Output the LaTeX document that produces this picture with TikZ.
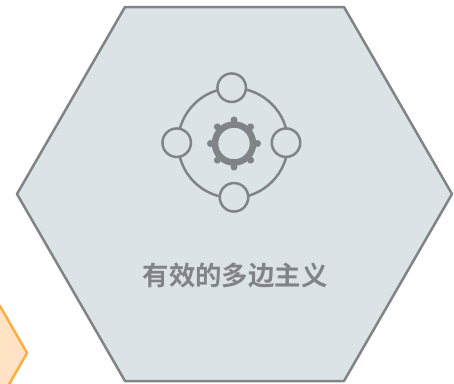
\documentclass[tikz,border=0pt]{standalone}
\usepackage{fontspec}
\newfontfamily\cjk{Noto Sans CJK SC}[BoldFont={Noto Sans CJK SC Bold}]
\definecolor{hexfill}{RGB}{220,227,231}
\definecolor{hexline}{RGB}{128,132,135}
\definecolor{orfill}{RGB}{255,227,196}
\definecolor{orline}{RGB}{255,173,66}
\tikzset{
  hexshape/.style={draw=hexline,fill=hexfill,line width=2.5pt,line join=round},
  orshape/.style={draw=orline,fill=orfill,line width=2.5pt,line join=round},
  satellite/.style={circle,draw=hexline,fill=hexfill,line width=2.5pt,minimum size=28.5pt,inner sep=0pt},
  orbit/.style={draw=hexline,line width=2.5pt},
  gearring/.style={draw=hexline,line width=6.5pt},
  geartooth/.style={fill=hexline},
  caption/.style={text=hexline,font=\cjk\bfseries\fontsize{26.4}{30}\selectfont,inner sep=0pt}
}
\begin{document}
\begin{tikzpicture}[x=1pt,y=-1pt]
\useasboundingbox (0,0) rectangle (454,383);
\clip (0,0) rectangle (454,383);
\fill[white] (0,0) rectangle (454,383);
\draw[orshape] (-30,306) -- (0,306) -- (27,353) -- (0,400) -- (-30,400) -- cycle;
\draw[hexshape] (125,7) -- (344,7) -- (452,194) -- (344,381) -- (125,381) -- (17,194) -- cycle;
\coordinate (c) at (233,143);
\draw[orbit] (c) circle[radius=55];
\node[satellite] (top) at (231.7,87.7) {};
\node[satellite] (left) at (176.7,142.7) {};
\node[satellite] (right) at (286,142.7) {};
\node[satellite] (bottom) at (234,197.3) {};
\coordinate (g) at (234,143.5);
\draw[gearring] (g) circle[radius=19];
\foreach \a in {0,45,...,315} \fill[geartooth] (g) ++(\a:23.5) circle[radius=3.5];
\node[caption] (label) at (235,276) {有效的多边主义};
\end{tikzpicture}
\end{document}
